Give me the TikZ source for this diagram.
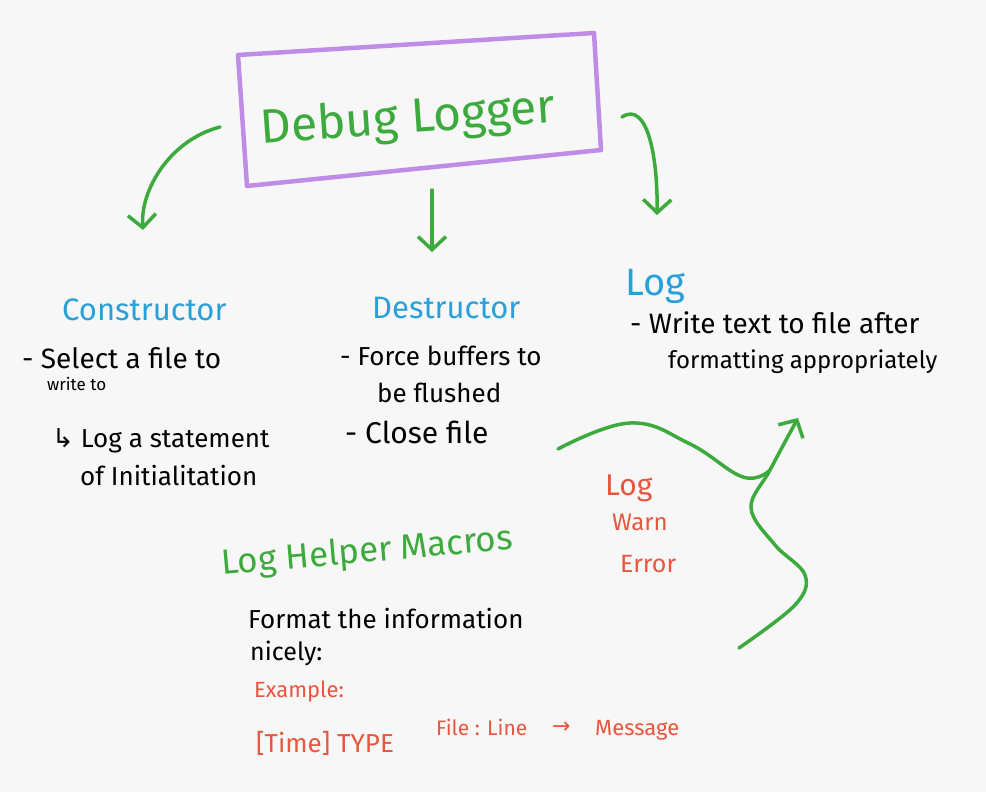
\documentclass[tikz,border=0pt]{standalone}
\usepackage{fontspec}
\setmainfont{Fira Sans}
\newfontfamily\dv{DejaVu Sans}
\usetikzlibrary{arrows.meta}
\definecolor{bg}{HTML}{F7F7F7}
\definecolor{hgreen}{HTML}{3DAA3D}
\definecolor{hblue}{HTML}{29A0DA}
\definecolor{hred}{HTML}{E9563F}
\definecolor{hpurple}{HTML}{BF8CE7}
\newcommand{\hsz}[1]{\fontsize{#1}{#1}\selectfont}
\tikzset{
  conn/.style={draw=hgreen, line width=3.5pt, line cap=round, line join=round},
  tipv/.style={-{Straight Barb[length=13pt,width=28pt]}},
  txt/.style={anchor=base west, inner sep=0pt, text=black},
  head/.style={anchor=base west, inner sep=0pt, text=hblue},
  redtxt/.style={anchor=base west, inner sep=0pt, text=hred},
  framebox/.style={draw=hpurple, line width=4.5pt, line join=round},
}
\begin{document}
\begin{tikzpicture}[x=1pt,y=-1pt]
\fill[bg] (0,0) rectangle (986,792);
\useasboundingbox (0,0) rectangle (986,792);

% title box
\coordinate (b1) at (238,55);
\coordinate (b2) at (594,33);
\coordinate (b3) at (601,150);
\coordinate (b4) at (247,186);
\draw[framebox] (b1) -- (b2) -- (b3) -- (b4) -- cycle;
\node[text=hgreen, font=\hsz{48}, rotate=4, inner sep=0pt] (title) at (408,120) {Debug Logger};

% Constructor
\node[head, font=\hsz{31}] (cons) at (62,320) {Constructor};
\node[txt, font=\hsz{28}] (c1) at (22,368) {- Select a file to};
\node[txt, font=\hsz{17}] (c2) at (47,390) {write to};
\node[txt, font=\hsz{26}] (c3) at (52,447) {{\dv ↳} Log a statement};
\node[txt, font=\hsz{26}] (c4) at (80,485) {of Initialitation};

% Destructor
\node[head, font=\hsz{31}] (des) at (372,318) {Destructor};
\node[txt, font=\hsz{26}] (d1) at (340,365) {- Force buffers to};
\node[txt, font=\hsz{26}] (d2) at (377,402) {be flushed};
\node[txt, font=\hsz{30}] (d3) at (345,443) {- Close file};

% Log
\node[head, font=\hsz{38}] (log) at (625,295) {Log};
\node[txt, font=\hsz{28}] (l1) at (630,333) {- Write text to file after};
\node[txt, font=\hsz{24}] (l2) at (668,368) {formatting appropriately};

% Log Helper Macros
\node[anchor=base west, inner sep=0pt, text=hgreen, font=\hsz{35}, rotate=5] (lhm) at (222,575) {Log Helper Macros};
\node[txt, font=\hsz{26}] (h1) at (248,628) {Format the information};
\node[txt, font=\hsz{25}] (h2) at (250,660) {nicely:};
\node[redtxt, font=\hsz{22}] (ex) at (254,697) {Example:};
\node[redtxt, font=\hsz{26}] (ex1) at (256,752) {[Time] TYPE};
\node[redtxt, font=\hsz{21}] (ex2) at (436,735) {File : Line};
\node[redtxt, font=\dv\hsz{22}] (ex3) at (552,733) {→};
\node[redtxt, font=\hsz{22}] (ex4) at (595,735) {Message};

% levels
\node[redtxt, font=\hsz{30}] (lv1) at (605,495) {Log};
\node[redtxt, font=\hsz{24}] (lv2) at (612,530) {Warn};
\node[redtxt, font=\hsz{25}] (lv3) at (620,572) {Error};

% connectors
\coordinate (a1s) at (220,127);
\coordinate (a1e) at (143,230);
\draw[conn,tipv] (a1s) .. controls (170,140) and (140,190) .. (a1e);
\coordinate (a2s) at (432,190);
\coordinate (a2e) at (432,252);
\draw[conn,tipv] (a2s) -- (a2e);
\coordinate (a3s) at (622,117);
\coordinate (a3e) at (657,215);
\draw[conn,tipv] (a3s) .. controls (648,100) and (658,160) .. (a3e);

% wave arrow
\coordinate (w1) at (558,449);
\coordinate (wj) at (770,470);
\coordinate (w2) at (739,648);
\coordinate (wt) at (798,418);
\draw[conn] plot[smooth, tension=0.7] coordinates {(w1) (630,423) (690,444) (743,477) (wj)};
\draw[conn,tipv] plot[smooth, tension=0.6] coordinates {(w2) (795,605) (805,575) (775,545) (751,508) (wj) (wt)};
\end{tikzpicture}
\end{document}
